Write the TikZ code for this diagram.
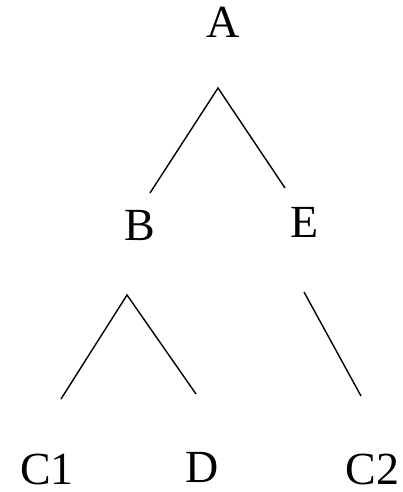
\documentclass[tikz,border=0pt]{standalone}
\usepackage{fontspec}
\setmainfont{Liberation Serif}
\usetikzlibrary{positioning}

\begin{document}
\begin{tikzpicture}[
      x=1pt,y=-1pt,
      every node/.style={inner sep=0pt,anchor=base,text depth=0pt,font=\fontsize{46}{50}\selectfont},
      edge/.style={line width=1.4pt}
    ]
      \useasboundingbox (0,0) rectangle (403,492);
      % labels
      \node (A) at (223.5,38) {A};
      \node (B) at (140,240) {B};
      \node (E) at (305,237) {E};
      \node (C1) at (47,484.5) {C1};
      \node (D) at (202.5,482) {D};
      \node (C2) at (372.5,484.5) {C2};
      % line ends
      \coordinate (A-top) at (218,88);
      \coordinate (B-up) at (150,193);
      \coordinate (E-up) at (285,188);
      \coordinate (B-top) at (127,295);
      \coordinate (E-top) at (304,292);
      \coordinate (C1-up) at (61,399);
      \coordinate (D-up) at (196,394);
      \coordinate (C2-up) at (361,396);
      \draw[edge] (B-up) -- (A-top) -- (E-up);
      \draw[edge] (C1-up) -- (B-top) -- (D-up);
      \draw[edge] (E-top) -- (C2-up);
    \end{tikzpicture}
\end{document}
